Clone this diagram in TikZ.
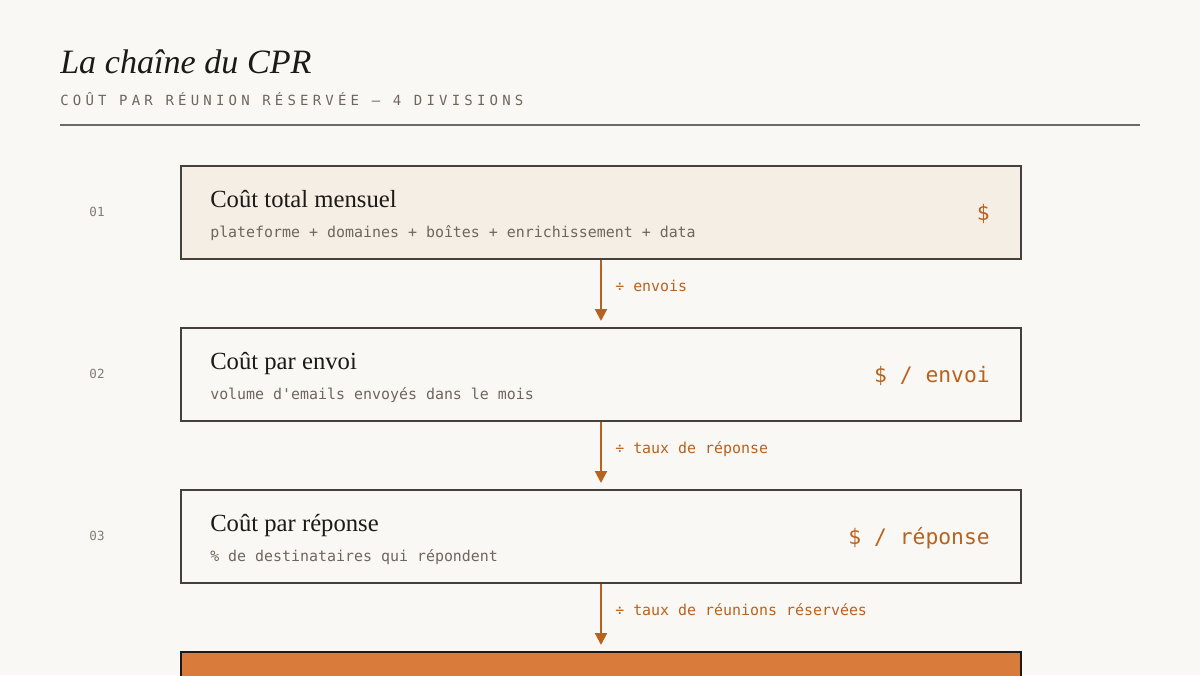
\documentclass[tikz,border=0pt]{standalone}
\usepackage{fontspec}
\setmainfont{Liberation Serif}
\newfontfamily\monofont{DejaVu Sans Mono}
\newfontfamily\monowide{DejaVu Sans Mono}[LetterSpace=30]
\usetikzlibrary{arrows.meta}
\definecolor{paper}{HTML}{FAF8F4}
\definecolor{ink}{HTML}{1C1916}
\definecolor{edge}{HTML}{45403A}
\definecolor{rust}{HTML}{B8621F}
\definecolor{muted}{HTML}{6F665D}
\definecolor{numgray}{HTML}{837C74}
\definecolor{rulegray}{HTML}{6E6A65}
\definecolor{cream}{HTML}{F5EEE5}
\definecolor{ember}{HTML}{D97C3B}
\tikzset{
 stage/.style={draw=edge, line width=1.5pt, minimum width=630pt,
   minimum height=69.75pt, anchor=north west, inner sep=0pt},
 heading/.style={anchor=base west, inner sep=0pt, text=ink,
   font=\fontsize{18.5}{20}\selectfont},
 detail/.style={anchor=base west, inner sep=0pt, text=muted,
   font=\monofont\fontsize{11.2}{13}\selectfont},
 rank/.style={inner sep=0pt, text=numgray,
   font=\monofont\fontsize{9.4}{11}\selectfont},
 unit/.style={anchor=base east, inner sep=0pt, text=rust,
   font=\monofont\fontsize{16}{18}\selectfont},
 flow/.style={draw=rust, line width=1.6pt,
   -{Triangle[length=9pt,width=9pt]}, shorten >=4.5pt},
 divisor/.style={anchor=base west, inner sep=0pt, text=rust,
   font=\monofont\fontsize{11.2}{13}\selectfont},
}

\begin{document}
\begin{tikzpicture}[x=0.75pt, y=-0.75pt]
        \fill[paper] (0,0) rectangle (1200,675);
        \useasboundingbox (0,0) rectangle (1200,675);
        \clip (0,0) rectangle (1200,675);

        % en-tete
        \node[anchor=base west, inner sep=0pt, text=ink,
          font=\itshape\fontsize{25.6}{28}\selectfont] (titre) at (60,73) {La chaîne du CPR};
        \node[anchor=base west, inner sep=0pt, text=muted,
          font=\monowide\fontsize{10.5}{12}\selectfont] (soustitre) at (60,105)
          {COÛT PAR RÉUNION RÉSERVÉE — 4 DIVISIONS};
        \draw[rulegray, line width=1.5pt] (60,125) -- (1140,125);

        % etapes
        \node[stage, fill=cream] (total) at (180,165) {};
        \node[rank] (n1) at (97,212) {01};
        \node[heading] (totalT) at (210,207) {Coût total mensuel};
        \node[detail] (totalD) at (210,237) {plateforme + domaines + boîtes + enrichissement + data};
        \node[unit] (totalU) at (990,220) {\$};

        \node[stage, fill=paper] (envoi) at (180,327) {};
        \node[rank] (n2) at (97,374) {02};
        \node[heading] (envoiT) at (210,369) {Coût par envoi};
        \node[detail] (envoiD) at (210,399) {volume d'emails envoyés dans le mois};
        \node[unit] (envoiU) at (990,382) {\$ / envoi};

        \node[stage, fill=paper] (reponse) at (180,489) {};
        \node[rank] (n3) at (97,536) {03};
        \node[heading] (reponseT) at (210,531) {Coût par réponse};
        \node[detail] (reponseD) at (210,561) {\% de destinataires qui répondent};
        \node[unit] (reponseU) at (990,544) {\$ / réponse};

        \node[stage, fill=ember, draw=ink] (reunion) at (180,651) {};

        % divisions
        \draw[flow] (total.south) -- (envoi.north);
        \node[divisor] (d1) at (615,291) {÷ envois};
        \draw[flow] (envoi.south) -- (reponse.north);
        \node[divisor] (d2) at (615,453) {÷ taux de réponse};
        \draw[flow] (reponse.south) -- (reunion.north);
        \node[divisor] (d3) at (615,615) {÷ taux de réunions réservées};
    \end{tikzpicture}
\end{document}
